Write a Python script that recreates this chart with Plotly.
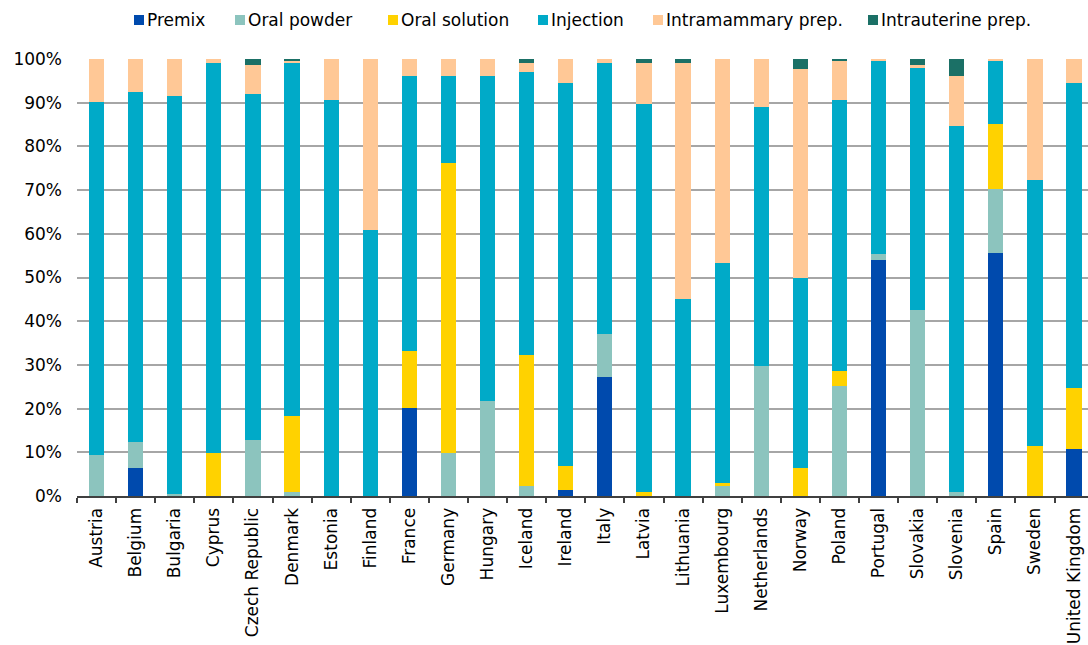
import plotly.graph_objects as go

# Share of antimicrobial sales (%) by pharmaceutical form, per country
countries = [
    "Austria", "Belgium", "Bulgaria", "Cyprus", "Czech Republic", "Denmark",
    "Estonia", "Finland", "France", "Germany", "Hungary", "Iceland", "Ireland",
    "Italy", "Latvia", "Lithuania", "Luxembourg", "Netherlands", "Norway",
    "Poland", "Portugal", "Slovakia", "Slovenia", "Spain", "Sweden",
    "United Kingdom",
]

premix = [0, 6.3, 0, 0, 0, 0, 0, 0, 20.2, 0, 0, 0, 1.4, 27.2, 0, 0, 0, 0, 0,
          0, 53.9, 0, 0, 55.5, 0, 10.8]
oral_powder = [9.4, 6.1, 0.5, 0, 12.8, 0.9, 0, 0, 0, 9.8, 21.7, 2.4, 0, 9.9,
               0, 0, 2.4, 29.7, 0, 25.2, 1.5, 42.6, 0.9, 14.8, 0, 0]
oral_solution = [0, 0, 0, 9.8, 0, 17.4, 0, 0, 13.0, 66.4, 0, 29.8, 5.5, 0,
                 0.9, 0, 0.5, 0, 6.4, 3.5, 0, 0, 0, 14.9, 11.4, 13.9]
injection = [80.7, 80.1, 91.0, 89.2, 79.3, 80.7, 90.6, 60.9, 62.8, 19.8, 74.3,
             64.9, 87.6, 61.9, 88.7, 45.0, 50.5, 59.4, 43.5, 61.9, 44.1, 55.4,
             83.8, 14.3, 60.8, 69.8]
intramammary = [9.9, 7.5, 8.5, 1.0, 6.5, 0.5, 9.4, 39.1, 4.0, 4.0, 4.0, 1.9,
                5.5, 1.0, 9.4, 54.0, 46.6, 10.9, 47.7, 8.9, 0.5, 0.6, 11.3,
                0.5, 27.8, 5.5]
intrauterine = [0, 0, 0, 0, 1.4, 0.5, 0, 0, 0, 0, 0, 1.0, 0, 0, 1.0, 1.0, 0,
                0, 2.4, 0.5, 0, 1.4, 4.0, 0, 0, 0]

series = [
    ("Premix", premix, "#004AAD"),
    ("Oral powder", oral_powder, "#8CC4BE"),
    ("Oral solution", oral_solution, "#FFD200"),
    ("Injection", injection, "#00AAC8"),
    ("Intramammary prep.", intramammary, "#FFC896"),
    ("Intrauterine prep.", intrauterine, "#1B7066"),
]

FONT = "Verdana, DejaVu Sans, sans-serif"
W, H = 1088, 645
PLOT_L, PLOT_R, PLOT_T, PLOT_B = 77, 1088, 59, 496

fig = go.Figure()
for name, vals, color in series:
    fig.add_trace(go.Bar(
        x=countries, y=vals, name=name,
        marker=dict(color=color, line=dict(width=0)),
        showlegend=False,
    ))

# Legend drawn as small squares + labels along the top
legend_left_px = [134, 235, 388, 538, 653, 868]


def px_to_paper_x(px):
    return (px - PLOT_L) / (PLOT_R - PLOT_L)


def px_to_paper_y(py):
    return (PLOT_B - py) / (PLOT_B - PLOT_T)


shapes = []
annotations = []
for (name, _, color), lx in zip(series, legend_left_px):
    shapes.append(dict(
        type="rect", xref="paper", yref="paper",
        x0=px_to_paper_x(lx), x1=px_to_paper_x(lx + 10),
        y0=px_to_paper_y(25), y1=px_to_paper_y(15),
        fillcolor=color, line=dict(width=0),
    ))
    annotations.append(dict(
        xref="paper", yref="paper",
        x=px_to_paper_x(lx + 11), y=px_to_paper_y(20),
        xanchor="left", yanchor="middle", showarrow=False,
        text=name, font=dict(family=FONT, size=17, color="#000000"),
    ))

span = (PLOT_R - PLOT_L) / 39.1

fig.update_layout(
    width=W, height=H,
    margin=dict(l=PLOT_L, r=W - PLOT_R, t=PLOT_T, b=H - PLOT_B),
    barmode="stack", bargap=0.61,
    plot_bgcolor="white", paper_bgcolor="white",
    font=dict(family=FONT, size=17, color="#000000"),
    shapes=shapes, annotations=annotations,
    xaxis=dict(
        type="category", range=[-0.5, -0.5 + span],
        tickangle=-90, tickson="boundaries", automargin=False,
        ticks="outside", ticklen=5, tickwidth=2, tickcolor="#404040",
        showline=True, linecolor="#404040", linewidth=2,
        showgrid=False, ticklabelstandoff=3,
        tickfont=dict(family=FONT, size=17, color="#000000"),
    ),
    yaxis=dict(
        range=[0, 100], dtick=10, ticksuffix="%", automargin=False,
        showgrid=True, gridcolor="#A6A6A6", gridwidth=2,
        zeroline=False, showline=False, ticks="",
        ticklabelstandoff=14,
        tickfont=dict(family=FONT, size=17, color="#000000"),
    ),
)

fig.write_html("out.html")
